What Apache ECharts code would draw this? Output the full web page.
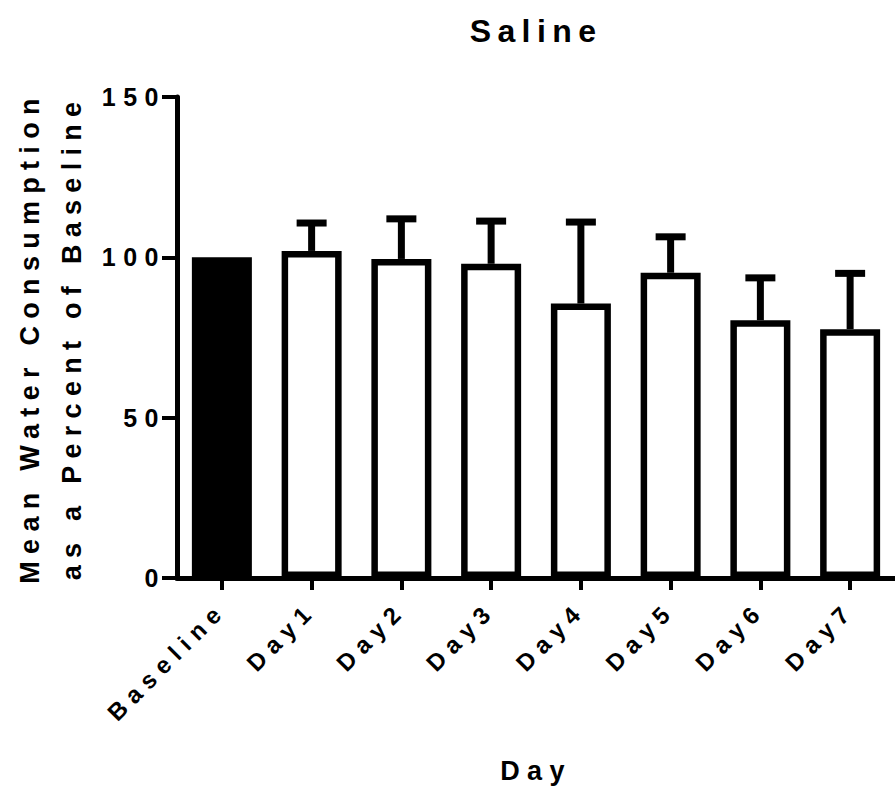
<!DOCTYPE html>
<html>
<head>
<meta charset="utf-8">
<script src="https://cdn.jsdelivr.net/npm/echarts@6/dist/echarts.min.js"></script>
<style>
html,body{margin:0;padding:0;background:#fff;}
#chart{width:895px;height:791px;}
#chart text{letter-spacing:0.3em;}
#chart text[style*="27px"]{letter-spacing:0.27em;}
#chart text[style*="32px"]{letter-spacing:0.2em;}
</style>
</head>
<body>
<div id="chart"></div>
<script>
const categories = ['Baseline','Day1','Day2','Day3','Day4','Day5','Day6','Day7'];
const means = [100, 102, 99.5, 98, 85.6, 95.2, 80.4, 77.6];
const upperErr = [null, 110.7, 112, 111.3, 111, 106.4, 93.6, 95];
const yTicks = [0, 50, 100, 150];

const FONT = '"Liberation Sans", Arial, Helvetica, sans-serif';
const chart = echarts.init(document.getElementById('chart'), null, {renderer:'svg'});

const barData = means.map((v, i) => i === 0
  ? {value: v, itemStyle: {color: '#000', borderColor: '#000'}}
  : {value: v});
const errData = [];
means.forEach((m, i) => { if (upperErr[i] != null) errData.push([i, m, upperErr[i]]); });

chart.setOption({
  animation: false,
  backgroundColor: '#fff',
  title: {
    text: 'Saline',
    left: 531, textAlign: 'center', top: 10,
    textStyle: {fontFamily: FONT, fontWeight: 'bold', fontSize: 32, color: '#000'}
  },
  grid: {left: 177, right: -6, top: 97, bottom: 213, containLabel: false},
  xAxis: {
    type: 'category',
    data: categories,
    name: 'Day',
    nameLocation: 'middle',
    nameGap: 179,
    nameTextStyle: {fontFamily: FONT, fontWeight: 'bold', fontSize: 27, color: '#000'},
    axisLine: {show: true, lineStyle: {color: '#000', width: 5}},
    axisTick: {show: true, alignWithLabel: true, length: 12, lineStyle: {color: '#000', width: 4}},
    axisLabel: {rotate: 45, margin: 28, interval: 0, fontFamily: FONT, fontWeight: 'bold', fontSize: 24, color: '#000'},
    splitLine: {show: false}
  },
  yAxis: {
    type: 'value',
    min: 0, max: 150, interval: 50,
    name: 'Mean Water Consumption\nas a Percent of Baseline',
    nameLocation: 'middle',
    nameGap: 84,
    nameTextStyle: {fontFamily: FONT, fontWeight: 'bold', fontSize: 27, color: '#000', lineHeight: 42},
    axisLine: {show: true, lineStyle: {color: '#000', width: 5}},
    axisTick: {show: true, length: 15, lineStyle: {color: '#000', width: 4}},
    axisLabel: {margin: 11, fontFamily: FONT, fontWeight: 'bold', fontSize: 25, color: '#000',
      formatter: v => yTicks.includes(v) ? String(v) : ''},
    splitLine: {show: false}
  },
  series: [
    {
      type: 'custom',
      data: errData,
      z: 1,
      renderItem: (params, api) => {
        const i = api.value(0), m = api.value(1), u = api.value(2);
        const p0 = api.coord([i, m]), p1 = api.coord([i, u]);
        const hw = 15;
        return {type: 'group', children: [
          {type: 'line', shape: {x1: p0[0], y1: p0[1], x2: p1[0], y2: p1[1]}, style: {stroke: '#000', lineWidth: 7}},
          {type: 'line', shape: {x1: p1[0]-hw, y1: p1[1], x2: p1[0]+hw, y2: p1[1]}, style: {stroke: '#000', lineWidth: 7}}
        ]};
      }
    },
    {
      type: 'bar',
      data: barData,
      barWidth: 60,
      z: 2,
      itemStyle: {color: '#fff', borderColor: '#000', borderWidth: 6.5}
    }
  ]
});
</script>
</body>
</html>
